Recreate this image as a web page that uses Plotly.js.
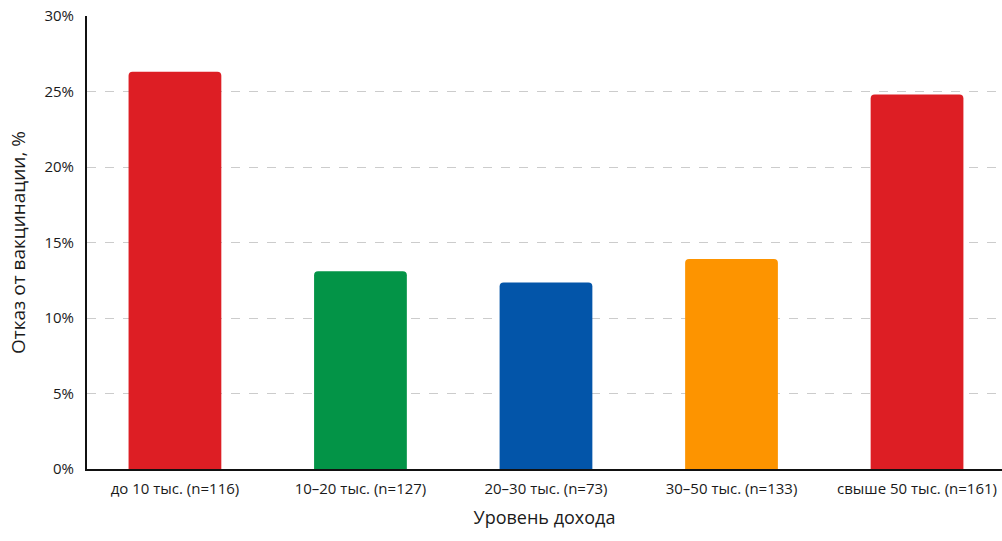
<!DOCTYPE html>
<html><head><meta charset="utf-8">
<script src="https://cdn.plot.ly/plotly-3.0.1.min.js"></script>
<style>html,body{margin:0;padding:0;background:#fff}#c{width:1002px;height:541px}</style>
</head><body><div id="c"></div>
<script>
const categories = ["до 10 тыс. (n=116)", "10–20 тыс. (n=127)", "20–30 тыс. (n=73)", "30–50 тыс. (n=133)", "свыше 50 тыс. (n=161)"];
const values = [26.3, 13.1, 12.35, 13.9, 24.8];
const colors = ["#dd1e24", "#039447", "#0355a9", "#fd9400", "#dd1e24"];
const yTicks = [0, 5, 10, 15, 20, 25, 30];
const yTickLabels = ["0%", "5%", "10%", "15%", "20%", "25%", "30%"];

const font = "'Open Sans', sans-serif";
Plotly.newPlot('c', [{
  type: 'bar', x: [0, 1, 2, 3, 4], y: values,
  marker: {color: colors, cornerradius: 4},
  width: 0.5, hoverinfo: 'skip'
}], {
  width: 1002, height: 541,
  margin: {l: 87, r: 0, t: 16, b: 72},
  paper_bgcolor: '#fff', plot_bgcolor: '#fff',
  font: {family: font, color: '#1a1a1a', size: 15},
  showlegend: false,
  xaxis: {
    range: [-0.474, 4.458], tickvals: [0, 1, 2, 3, 4], ticktext: categories,
    showline: true, linecolor: '#111', linewidth: 2, ticks: '', showgrid: false, zeroline: false,
    tickfont: {size: 15, family: font}, ticklabelstandoff: 5,
    title: {text: 'Уровень дохода', font: {size: 18, family: font}, standoff: 14}
  },
  yaxis: {
    range: [0, 30], tickvals: yTicks, ticktext: yTickLabels,
    showline: true, linecolor: '#111', linewidth: 2,
    showgrid: true, gridcolor: '#cccccc', griddash: 'dash', gridwidth: 1,
    zeroline: false, ticks: '', ticklen: 0,
    tickfont: {size: 15, family: font}, ticklabelstandoff: 8,
    title: {text: 'Отказ от вакцинации, %', font: {size: 19, family: font}, standoff: 14}
  }
}, {displayModeBar: false, staticPlot: true});
</script></body></html>
